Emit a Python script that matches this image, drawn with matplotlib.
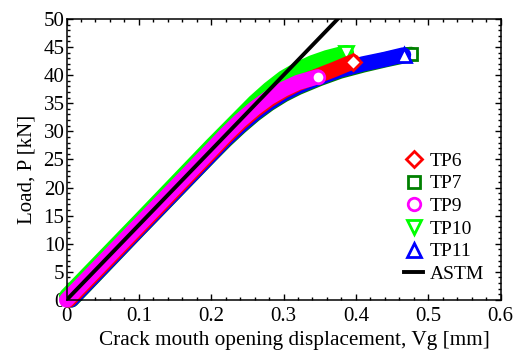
import matplotlib
matplotlib.use('Agg')
import matplotlib.pyplot as plt
from matplotlib.ticker import MultipleLocator

plt.rcParams['font.family'] = ['Liberation Serif', 'DejaVu Serif']
plt.rcParams['font.size'] = 15

# curves: displacement [mm], load [kN]
tp6_x = [0.003, 0.10, 0.20, 0.22, 0.24, 0.26, 0.28, 0.30, 0.32, 0.34, 0.37, 0.396]
tp6_y = [0.0, 12.9, 26.3, 29.0, 31.5, 33.7, 35.6, 37.2, 38.5, 39.5, 41.0, 42.4]
tp7_x = [0.007, 0.10, 0.20, 0.22, 0.24, 0.26, 0.28, 0.30, 0.32, 0.35, 0.378, 0.41, 0.44, 0.476]
tp7_y = [0.0, 12.5, 25.8, 28.4, 30.8, 33.0, 34.9, 36.5, 37.8, 39.4, 40.7, 41.8, 42.7, 43.7]
tp9_x = [0.0, 0.10, 0.20, 0.22, 0.24, 0.26, 0.28, 0.30, 0.32, 0.347]
tp9_y = [0.0, 13.3, 26.7, 29.4, 31.9, 34.1, 36.0, 37.5, 38.7, 39.7]
tp10_x = [0.0, 0.10, 0.20, 0.22, 0.24, 0.26, 0.28, 0.30, 0.32, 0.34, 0.36, 0.387]
tp10_y = [0.7, 14.0, 27.4, 30.0, 32.6, 35.2, 37.5, 39.5, 41.0, 42.2, 43.1, 44.0]
tp11_x = [0.006, 0.10, 0.20, 0.22, 0.24, 0.26, 0.28, 0.30, 0.32, 0.35, 0.378, 0.41, 0.44, 0.466]
tp11_y = [0.0, 12.6, 25.9, 28.6, 31.0, 33.2, 35.1, 36.7, 38.0, 39.6, 40.9, 42.0, 42.8, 43.6]
astm_x = [0.0, 0.375]
astm_y = [0.0, 50.0]

fig = plt.figure(figsize=(5.16, 3.5), dpi=100)
ax = fig.add_axes([0.129, 0.143, 0.841, 0.803])

# drawing order: bottom to top
curves = [
    (tp7_x, tp7_y, '#008000', 's', 8.5, 'TP7'),
    (tp11_x, tp11_y, '#0000ff', '^', 10, 'TP11'),
    (tp10_x, tp10_y, '#00ff00', 'v', 10, 'TP10'),
    (tp6_x, tp6_y, '#ff0000', 'D', 8, 'TP6'),
    (tp9_x, tp9_y, '#ff00ff', 'o', 9, 'TP9'),
]
handles = {}
for xs, ys, c, m, ms, name in curves:
    ax.plot(xs, ys, color=c, lw=11, solid_capstyle='round',
            solid_joinstyle='round', clip_on=False)
    ax.plot(xs[-1:], ys[-1:], ls='none', marker=m, ms=ms, mfc='white',
            mec=c, mew=2, clip_on=False)
    handles[name] = ax.plot([], [], ls='none', marker=m, ms=ms, mfc='white',
                            mec=c, mew=2, label=name)[0]
handles['ASTM'] = ax.plot(astm_x, astm_y, color='black', lw=2.8,
                          label='ASTM')[0]

ax.set_xlim(0, 0.6)
ax.set_ylim(0, 50)
ax.set_xticks([0, 0.1, 0.2, 0.3, 0.4, 0.5, 0.6])
ax.set_xticklabels(['0', '0.1', '0.2', '0.3', '0.4', '0.5', '0.6'])
ax.xaxis.set_minor_locator(MultipleLocator(0.02))
ax.yaxis.set_major_locator(MultipleLocator(5))
ax.yaxis.set_minor_locator(MultipleLocator(1))
ax.tick_params(which='both', direction='in', top=True, right=True, width=1)
ax.tick_params(which='major', length=4, labelsize=15)
ax.tick_params(axis='x', which='major', pad=5)
ax.tick_params(axis='y', which='major', pad=1.5)
ax.tick_params(which='minor', length=2)
for s in ax.spines.values():
    s.set_linewidth(1.1)

ax.set_xlabel('Crack mouth opening displacement, Vg [mm]', fontsize=15.3)
ax.set_ylabel('Load, P [kN]', fontsize=15)
ax.xaxis.set_label_coords(0.524, -0.112)
ax.yaxis.set_label_coords(-0.07, 0.463)

order = ['TP6', 'TP7', 'TP9', 'TP10', 'TP11', 'ASTM']
ax.legend([handles[k] for k in order], order, loc='lower right',
          bbox_to_anchor=(0.963, 0.06), frameon=False, fontsize=14,
          handlelength=1.0, handletextpad=0.35, labelspacing=0.26,
          borderaxespad=0, borderpad=0)

fig.savefig('out.png', dpi=100)
